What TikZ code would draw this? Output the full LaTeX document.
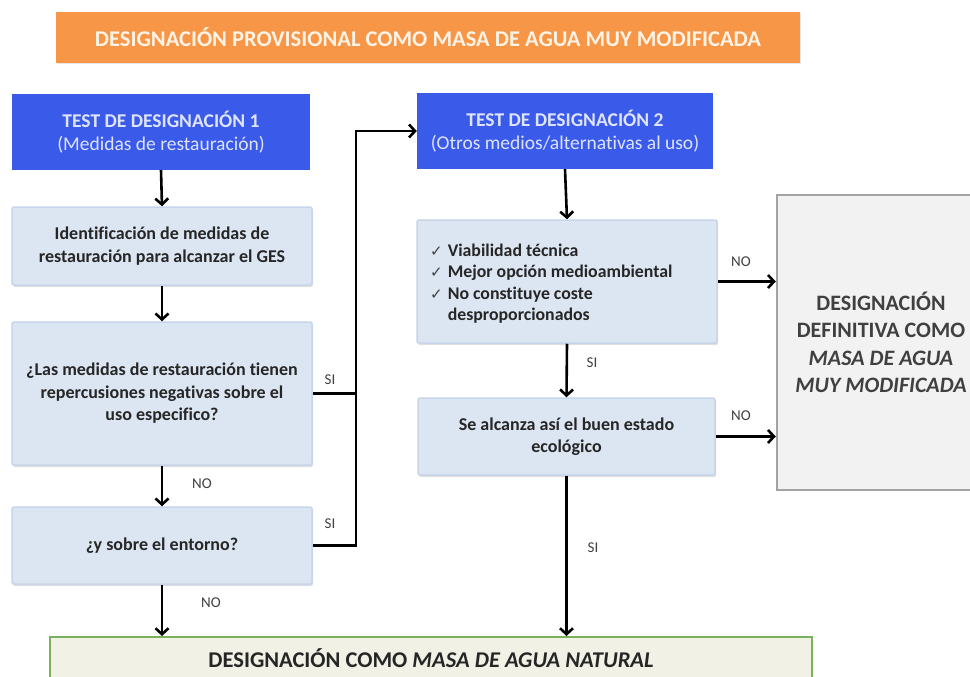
\documentclass[tikz,border=0pt]{standalone}
\usepackage{fontspec}
\setmainfont{Carlito}[Ligatures={NoCommon}]
\newfontfamily\symfont{DejaVu Sans}
\usetikzlibrary{arrows.meta,shadows,calc}
\definecolor{orng}{HTML}{F79646}
\definecolor{orngtxt}{HTML}{FFF3E6}
\definecolor{bluefill}{RGB}{58,90,234}
\definecolor{bluetxt}{RGB}{222,228,255}
\definecolor{lfill}{HTML}{DCE6F2}
\definecolor{lborder}{HTML}{C6D5EA}
\definecolor{gfill}{HTML}{F2F2F2}
\definecolor{gborder}{HTML}{A3A3A3}
\definecolor{grfill}{HTML}{F1F1E6}
\definecolor{grborder}{HTML}{79B15C}
\definecolor{txt}{HTML}{262626}
\definecolor{lbl}{HTML}{404040}
\begin{document}
\begin{tikzpicture}[x=1pt,y=-1pt,
  bluebox/.style={rectangle, fill=bluefill, text=bluetxt, align=center,
    font=\fontsize{19.5}{23}\selectfont, inner sep=0pt},
  lightbox/.style={rectangle, fill=lfill, draw=lborder, line width=1.5pt,
    rounded corners=2pt, text=txt, align=center,
    font=\bfseries\fontsize{18}{22.5}\selectfont, inner sep=0pt,
    drop shadow={shadow xshift=1pt, shadow yshift=-2pt, opacity=0.25, fill=black!50}},
  conn/.style={line width=2.6pt, draw=black, -{Straight Barb[length=6pt,width=13pt]}},
  plainline/.style={line width=2.6pt, draw=black},
  lab/.style={text=lbl, font=\fontsize{15}{17}\selectfont, inner sep=0pt}]
\useasboundingbox (0,0) rectangle (970,677);
\clip (0,0) rectangle (970,677);

% banner
\node[rectangle, fill=orng, minimum width=744pt, minimum height=51pt, inner sep=0pt,
  text=orngtxt, font=\bfseries\fontsize{22.5}{26}\selectfont,
  drop shadow={shadow xshift=0.5pt, shadow yshift=-1.5pt, opacity=0.2, fill=black!50}]
  (ban) at (428,37.5) {DESIGNACIÓN PROVISIONAL COMO MASA DE AGUA MUY MODIFICADA};

% left column
\node[bluebox, minimum width=298pt, minimum height=76pt] (t1) at (161,132)
  {\textbf{TEST DE DESIGNACIÓN 1}\\(Medidas de restauración)};
\node[lightbox, minimum width=300pt, minimum height=78pt] (b2) at (162,246)
  {Identificación de medidas de\\restauración para alcanzar el GES};
\node[lightbox, minimum width=300pt, minimum height=143pt] (b3) at (162,393.5)
  {¿Las medidas de restauración tienen\\repercusiones negativas sobre el\\uso especifico?};
\node[lightbox, minimum width=300pt, minimum height=77pt] (b4) at (162,545.5)
  {¿y sobre el entorno?};

% middle column
\node[bluebox, minimum width=296pt, minimum height=76pt] (t2) at (565,131)
  {\textbf{TEST DE DESIGNACIÓN 2}\\(Otros medios/alternativas al uso)};
\node[lightbox, minimum width=300pt, minimum height=123pt] (chk) at (567,281.5) {};
\node[anchor=west, text=txt, inner sep=0pt, align=left] (chkt) at (430,284)
  {\fontsize{17.8}{21.5}\selectfont
   \begin{tabular}{@{}l@{\hspace{5pt}}l@{}}
   {\symfont\fontsize{15}{16}\selectfont\textcolor{lbl}{✓}} & \textbf{Viabilidad técnica}\\
   {\symfont\fontsize{15}{16}\selectfont\textcolor{lbl}{✓}} & \textbf{Mejor opción medioambiental}\\
   {\symfont\fontsize{15}{16}\selectfont\textcolor{lbl}{✓}} & \textbf{No constituye coste}\\
   & \textbf{desproporcionados}
   \end{tabular}};
\node[lightbox, minimum width=297pt, minimum height=77pt] (b5) at (566.5,436.5)
  {Se alcanza así el buen estado\\ecológico};

% right box
\node[rectangle, fill=gfill, draw=gborder, line width=2.5pt, minimum width=208pt,
  minimum height=295pt, inner sep=0pt, align=center, text=lbl,
  font=\bfseries\fontsize{22}{27.5}\selectfont] (rb) at (881,342.5)
  {DESIGNACIÓN\\DEFINITIVA COMO\\\textit{MASA DE AGUA}\\\textit{MUY MODIFICADA}};

% bottom box
\node[rectangle, fill=grfill, draw=grborder, line width=2pt, minimum width=762pt,
  minimum height=43pt, inner sep=0pt, text=txt,
  font=\bfseries\fontsize{22.5}{26}\selectfont] (gb) at (431,658.5)
  {DESIGNACIÓN COMO \textit{MASA DE AGUA NATURAL}};

% junction
\coordinate (jt) at (356,131);

% connectors
\draw[conn] (t1.south) -- (b2.north);
\draw[conn] (b2.south) -- (b3.north);
\draw[conn] (b3.south) -- (b4.north);
\draw[conn] (b4.south) -- (b4.south |- gb.north);
\draw[plainline] (b3.east) -- (b3.east -| jt);
\draw[conn] (b4.east) -| (jt) -- (t2.west);
\draw[conn] (t2.south) -- (chk.north);
\draw[conn] (chk.south) -- (b5.north);
\draw[conn] (chk.east) -- (chk.east -| rb.west);
\draw[conn] (b5.east) -- (b5.east -| rb.west);
\draw[conn] (b5.south) -- (b5.south |- gb.north);

% labels
\node[lab] (l1) at (202,484) {NO};
\node[lab] (l2) at (211,603) {NO};
\node[lab] (l3) at (330,380) {SI};
\node[lab] (l4) at (330,524) {SI};
\node[lab] (l5) at (592,363) {SI};
\node[lab] (l6) at (593,548) {SI};
\node[lab] (l7) at (741,262) {NO};
\node[lab] (l8) at (741,416) {NO};
\end{tikzpicture}
\end{document}
